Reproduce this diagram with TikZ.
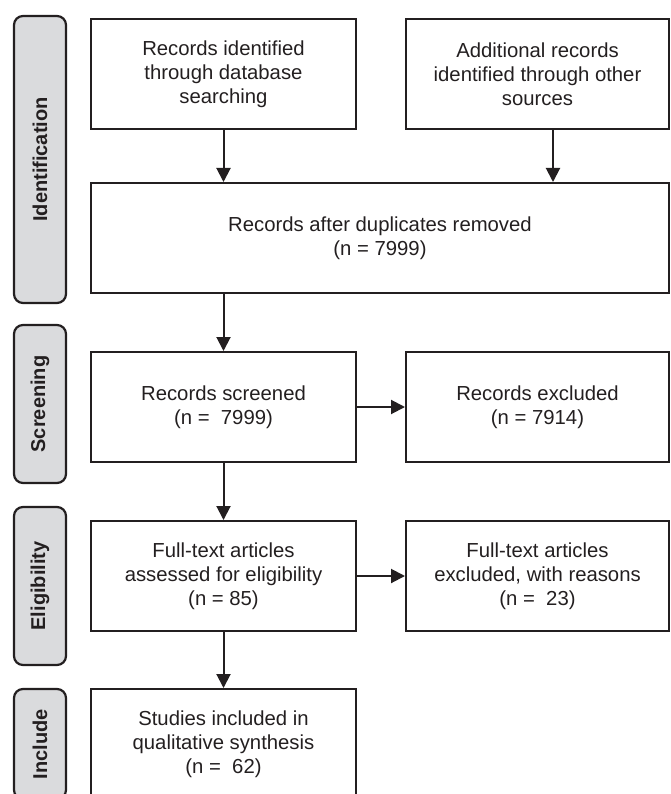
\documentclass[tikz,border=0pt]{standalone}
\usepackage{fontspec}
\setmainfont{Liberation Sans}
\usetikzlibrary{arrows.meta}
\definecolor{ink}{RGB}{35,31,32}
\definecolor{barfill}{RGB}{218,219,221}
\begin{document}
\begin{tikzpicture}[x=1pt,y=-1pt,
    box/.style={draw=ink, line width=2pt, text=ink, align=center,
        minimum height=110pt, inner sep=2pt,
        font=\fontsize{20.3}{24}\selectfont},
    phase/.style={draw=ink, line width=2.2pt, fill=barfill, rounded corners=9pt,
        rotate=90, minimum height=52pt, inner sep=0pt, text=ink,
        font=\fontsize{20}{24}\selectfont\bfseries},
    arr/.style={draw=ink, line width=2pt, -{Triangle[length=14pt,width=14pt]}}]
    \useasboundingbox (0,0) rectangle (670,794);
    \clip (0,0) rectangle (670,794);
    %% phase bars on the left
    \node[phase, minimum width=287pt] (ident) at (40,159.5) {Identification};
    \node[phase, minimum width=158pt] (screen) at (40,404) {Screening};
    \node[phase, minimum width=158pt] (elig) at (40,586) {Eligibility};
    \node[phase, minimum width=110pt] (incl) at (40,744) {Include};
    %% identification
    \node[box, minimum width=265pt] (db) at (223.5,74) {Records identified\\through database\\searching};
    \node[box, minimum width=263pt] (other) at (537.5,74) {Additional records\\identified through other\\sources};
    \node[box, minimum width=578pt] (dup) at (380,238) {Records after duplicates removed\\(n = 7999)};
    %% screening
    \node[box, minimum width=265pt] (screened) at (223.5,407) {Records screened\\(n =\ \ 7999)};
    \node[box, minimum width=263pt] (excl) at (537.5,407) {Records excluded\\(n = 7914)};
    %% eligibility
    \node[box, minimum width=265pt] (fulltext) at (223.5,576) {Full-text articles\\assessed for eligibility\\(n = 85)};
    \node[box, minimum width=263pt] (ftexcl) at (537.5,576) {Full-text articles\\excluded, with reasons\\(n =\ \ 23)};
    %% included
    \node[box, minimum width=265pt] (studies) at (223.5,744) {Studies included in\\qualitative synthesis\\(n =\ \ 62)};
    %% connectors
    \draw[arr] (db.south) -- (db.south |- dup.north);
    \draw[arr] ([xshift=15.5pt]other.south) -- ([xshift=15.5pt]other.south |- dup.north);
    \draw[arr] (dup.south -| screened.north) -- (screened.north);
    \draw[arr] (screened.east) -- (excl.west);
    \draw[arr] (screened.south) -- (fulltext.north);
    \draw[arr] (fulltext.east) -- (ftexcl.west);
    \draw[arr] (fulltext.south) -- (studies.north);
\end{tikzpicture}
\end{document}
